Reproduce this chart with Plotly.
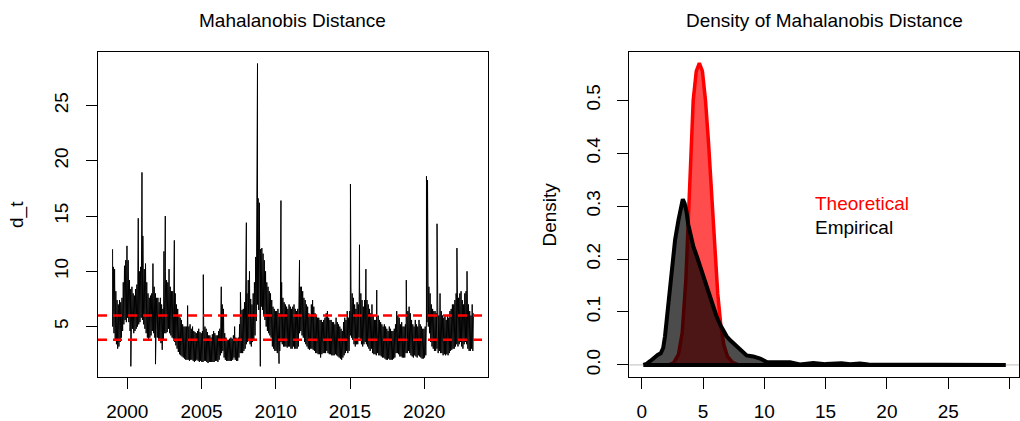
import plotly.graph_objects as go

# ---------------------------------------------------------------------------
# Daily Mahalanobis distance d_t, summarised per month as the low and high
# edge of the daily band (Jan 1999 .. Apr 2023), plus isolated daily extremes.
# ---------------------------------------------------------------------------
first_year = 1999

band_low = [
    5.0, 4.4, 3.8, 3.4, 3.0, 3.2, 3.6, 4.0, 4.6, 5.2, 5.6, 5.4,   # 1999
    5.8, 5.4, 4.6, 4.6, 4.8, 4.4, 4.6, 4.8, 5.0, 5.2, 5.4, 5.8,   # 2000
    5.6, 5.2, 4.8, 4.4, 4.0, 3.8, 4.0, 4.2, 4.6, 4.4, 4.0, 4.0,   # 2001
    4.0, 3.8, 3.9, 3.5, 2.9, 3.8, 4.4, 4.4, 4.5, 4.8, 4.4, 4.2,   # 2002
    4.0, 3.9, 3.6, 3.3, 3.0, 2.7, 2.5, 2.4, 2.3, 2.2, 2.1, 2.0,   # 2003
    2.0, 2.0, 1.9, 2.0, 2.0, 1.9, 1.8, 1.9, 2.0, 1.9, 1.8, 1.9,   # 2004
    1.8, 1.8, 1.9, 1.9, 1.8, 1.7, 1.8, 1.8, 1.8, 1.8, 1.8, 1.9,   # 2005
    1.9, 1.8, 2.0, 2.4, 2.6, 2.8, 2.2, 2.0, 1.9, 1.9, 1.9, 1.9,   # 2006
    1.9, 2.0, 2.2, 2.0, 1.9, 1.9, 2.2, 2.6, 2.6, 2.6, 2.8, 3.0,   # 2007
    3.4, 3.6, 3.8, 3.4, 3.2, 3.6, 3.8, 4.2, 5.5, 7.0, 6.5, 6.2,   # 2008
    6.8, 6.5, 6.0, 5.6, 5.0, 4.6, 4.4, 4.2, 4.0, 3.2, 3.0, 2.8,   # 2009
    2.8, 2.6, 2.6, 2.8, 3.6, 3.4, 3.2, 3.2, 3.2, 3.1, 3.2, 3.2,   # 2010
    3.0, 3.0, 3.2, 3.0, 3.0, 3.0, 3.2, 4.4, 4.6, 4.2, 4.0, 3.6,   # 2011
    3.4, 3.2, 3.0, 2.9, 3.0, 3.0, 2.9, 2.8, 2.6, 2.6, 2.5, 2.5,   # 2012
    2.2, 2.5, 2.6, 2.6, 2.6, 2.8, 2.6, 2.5, 2.5, 2.4, 2.4, 2.4,   # 2013
    2.5, 2.4, 2.3, 2.2, 2.1, 2.0, 2.2, 2.4, 2.6, 2.8, 2.6, 2.8,   # 2014
    4.2, 4.0, 3.8, 3.4, 3.2, 3.4, 3.4, 4.0, 3.8, 3.4, 3.2, 3.4,   # 2015
    3.6, 3.4, 3.2, 3.0, 2.8, 3.0, 2.6, 2.5, 2.5, 2.4, 2.6, 2.4,   # 2016
    2.4, 2.3, 2.2, 2.2, 2.1, 2.0, 2.0, 2.1, 2.0, 2.0, 2.0, 2.1,   # 2017
    2.2, 2.6, 2.6, 2.5, 2.3, 2.3, 2.2, 2.2, 2.2, 2.6, 2.6, 2.8,   # 2018
    2.6, 2.4, 2.3, 2.2, 2.4, 2.3, 2.2, 2.4, 2.3, 2.2, 2.1, 2.1,   # 2019
    2.2, 2.4, 5.4, 5.0, 4.4, 3.6, 3.2, 3.0, 2.8, 2.8, 3.0, 2.6,   # 2020
    2.8, 2.6, 2.6, 2.4, 2.5, 2.4, 2.5, 2.4, 2.6, 2.8, 2.9, 3.0,   # 2021
    3.0, 3.2, 3.4, 3.2, 3.4, 3.6, 3.2, 3.0, 3.4, 3.6, 3.4, 3.0,   # 2022
    2.8, 2.8, 3.0, 2.8,                                           # 2023
]

band_high = [
    10.4, 10.2, 8.2, 7.4, 7.0, 7.4, 7.2, 7.6, 9.0, 10.5, 11.0, 12.3,    # 1999
    11.0, 9.2, 8.4, 8.6, 8.0, 7.8, 8.4, 8.8, 9.6, 10.0, 10.4, 13.0,     # 2000
    11.5, 10.2, 10.7, 9.0, 8.0, 7.6, 7.8, 8.0, 10.7, 8.6, 8.0, 7.6,     # 2001
    7.6, 7.2, 7.6, 7.0, 6.6, 8.2, 10.0, 9.2, 9.0, 10.2, 8.6, 8.2,       # 2002
    8.2, 8.6, 8.0, 7.0, 6.6, 6.0, 5.8, 5.6, 5.2, 5.0, 5.0, 5.0,         # 2003
    6.9, 5.0, 5.2, 4.8, 5.0, 4.6, 4.5, 4.4, 4.6, 4.8, 4.5, 4.4,         # 2004
    4.6, 5.0, 5.0, 4.8, 4.5, 4.2, 4.2, 4.0, 4.3, 4.6, 4.4, 4.2,         # 2005
    4.2, 4.6, 4.8, 6.0, 7.0, 6.6, 4.4, 4.0, 3.8, 3.8, 3.9, 4.0,         # 2006
    3.9, 4.2, 5.0, 4.0, 3.9, 4.0, 5.2, 6.5, 6.5, 6.6, 7.2, 7.0,         # 2007
    8.0, 9.2, 10.0, 7.5, 7.0, 8.0, 9.0, 11.3, 16.5, 16.6, 16.2, 12.0,   # 2008
    12.1, 11.6, 11.0, 10.0, 9.0, 8.6, 8.2, 8.0, 7.4, 6.8, 6.6, 6.4,     # 2009
    6.4, 6.6, 6.2, 6.6, 9.0, 7.6, 7.2, 7.0, 6.8, 6.6, 7.0, 6.8,         # 2010
    6.6, 6.8, 7.0, 6.6, 6.4, 6.6, 7.0, 8.6, 8.6, 8.2, 7.6, 7.4,         # 2011
    7.0, 6.8, 6.2, 6.0, 7.0, 7.4, 6.8, 6.2, 6.0, 5.8, 5.8, 5.6,         # 2012
    5.6, 5.4, 5.6, 5.8, 6.2, 6.4, 5.8, 5.6, 5.6, 5.4, 5.4, 5.2,         # 2013
    5.8, 5.4, 5.2, 5.0, 4.8, 4.6, 5.4, 5.8, 5.6, 6.4, 5.8, 6.4,         # 2014
    8.6, 8.0, 7.6, 7.0, 6.6, 7.2, 7.0, 8.6, 8.0, 7.4, 6.8, 7.4,         # 2015
    8.0, 7.4, 7.0, 6.6, 6.2, 7.0, 6.0, 5.6, 5.6, 5.4, 6.0, 5.6,         # 2016
    5.4, 5.2, 5.0, 5.2, 5.0, 4.8, 4.6, 5.0, 4.8, 4.6, 4.6, 4.8,         # 2017
    5.2, 6.4, 6.0, 5.8, 5.2, 5.4, 5.0, 5.0, 5.2, 6.4, 6.4, 6.8,         # 2018
    6.2, 5.6, 5.2, 5.0, 5.6, 5.2, 5.0, 5.6, 5.2, 5.0, 4.8, 4.8,         # 2019
    5.0, 5.6, 9.6, 8.6, 8.0, 7.0, 6.6, 6.4, 6.4, 6.2, 8.3, 6.0,         # 2020
    8.0, 6.4, 6.0, 5.8, 6.0, 5.6, 6.0, 5.8, 6.4, 6.6, 7.0, 7.0,         # 2021
    7.4, 8.0, 8.3, 7.6, 8.0, 8.2, 7.4, 7.0, 8.0, 8.2, 7.6, 7.0,         # 2022
    6.4, 6.0, 7.0, 6.2,                                                 # 2023
]

# isolated daily extremes (decimal year, d_t)
spike_time = [1999.01, 2000.24, 2000.74, 2000.99, 2001.05, 2001.90, 2002.47,
              2002.56, 2003.17, 2005.12, 2006.33, 2007.62, 2008.02, 2008.74,
              2008.77, 2008.96, 2010.22, 2010.35, 2011.60, 2015.03, 2015.64,
              2016.07, 2016.80, 2018.79, 2020.15, 2020.22, 2020.86, 2022.20,
              2022.88]
spike_value = [12.0, 1.4, 14.8, 18.95, 13.2, 1.6, 11.8,
               15.0, 12.8, 9.7, 8.6, 8.1, 14.4, 26.1,
               28.8, 1.4, 1.65, 16.4, 11.0, 17.9, 12.4,
               10.2, 8.3, 9.2, 18.6, 18.25, 14.3, 12.1,
               10.0]

# reference levels drawn as dashed lines
threshold_levels = [6.0, 3.8]

# axis ticks
year_ticks = [2000, 2005, 2010, 2015, 2020]
dt_ticks = [5, 10, 15, 20, 25]
dist_ticks = [0, 5, 10, 15, 20, 25, 30]
dens_ticks = [0, 0.1, 0.2, 0.3, 0.4, 0.5]

# ---------------------------------------------------------------------------
# Density estimates of d_t
# ---------------------------------------------------------------------------
theo_x = [2.2, 2.6, 3.0, 3.3, 3.6, 3.8, 4.0, 4.2, 4.45, 4.7, 4.95, 5.2,
          5.45, 5.7, 5.95, 6.2, 6.45, 6.7, 7.0, 7.4, 7.8, 8.2]
theo_y = [0.0, 0.004, 0.02, 0.06, 0.16, 0.27, 0.40, 0.50, 0.555, 0.57, 0.555,
          0.50, 0.42, 0.32, 0.22, 0.135, 0.075, 0.038, 0.016, 0.005, 0.001, 0.0]

emp_x = [0.13, 0.4, 0.68, 1.0, 1.3, 1.55, 1.75, 1.9, 2.05, 2.2, 2.45, 2.72,
         3.0, 3.2, 3.35, 3.5, 3.65, 3.8, 4.0, 4.21, 4.5, 4.76, 5.0, 5.3,
         5.55, 5.84, 6.1, 6.4, 6.65, 6.93, 7.2, 7.48, 7.75, 8.0, 8.3, 8.56,
         9.1, 9.66, 10.2, 10.8, 11.3, 12.1, 12.9, 14.0, 15.0, 15.9, 16.3,
         17.0, 17.8, 18.5, 20.0, 22.0, 24.0, 26.0, 28.0, 29.0, 29.7]
emp_y = [0.0, 0.002, 0.007, 0.014, 0.019, 0.022, 0.032, 0.054, 0.085, 0.12,
         0.18, 0.236, 0.274, 0.302, 0.313, 0.305, 0.29, 0.265, 0.24, 0.224,
         0.205, 0.186, 0.168, 0.148, 0.128, 0.11, 0.092, 0.076, 0.064, 0.054,
         0.047, 0.041, 0.035, 0.029, 0.022, 0.018, 0.016, 0.012, 0.0055,
         0.005, 0.0045, 0.0049, 0.0008, 0.0037, 0.0015, 0.0018, 0.003, 0.0012,
         0.0025, 0.0008, 0.0006, 0.0004, 0.0003, 0.0003, 0.0004, 0.0005, 0.0]

legend_labels = ["Theoretical", "Empirical"]
legend_colors = ["#ff0000", "#000000"]

# ---------------------------------------------------------------------------
# Assemble the daily-looking path: low/high per month, extremes merged in time
# ---------------------------------------------------------------------------
pts = []
for i, (lo, hi) in enumerate(zip(band_low, band_high)):
    t0 = first_year + i / 12.0
    pts.append((t0 + 0.25 / 12.0, lo))
    pts.append((t0 + 0.75 / 12.0, hi))
pts += list(zip(spike_time, spike_value))
pts.sort(key=lambda p: p[0])
ts_x = [p[0] for p in pts]
ts_y = [p[1] for p in pts]


def closed(xs, ys):
    """Polygon outline including the closing edge back to the first vertex."""
    return list(xs) + [xs[0]], list(ys) + [ys[0]]


FONT = "Liberation Sans, Arial, sans-serif"
FS = 19
W, H = 1020, 421

# panel geometry (paper fractions)
dom_x1 = [0.0961, 0.4781]
dom_x2 = [0.617, 0.9993]
dom_y = [0.1038, 0.8772]
range_x2 = [-1.01, 30.8]
range_y2 = [-0.0234, 0.5917]

fig = go.Figure()

fig.add_trace(go.Scatter(
    x=ts_x, y=ts_y, mode="lines",
    line=dict(color="black", width=1),
    xaxis="x", yaxis="y", showlegend=False, hoverinfo="skip"))

for lvl in threshold_levels:
    fig.add_shape(type="line", xref="x domain", yref="y",
                  x0=0, x1=1, y0=lvl, y1=lvl,
                  line=dict(color="#ff0000", width=2.5, dash="9px,6px"))

# density panel: zero reference, theoretical then empirical on top
fig.add_shape(type="line", xref="x2 domain", yref="y2", x0=0, x1=1,
              y0=0, y1=0, line=dict(color="#bebebe", width=1), layer="below")

tx, ty = closed(theo_x, theo_y)
fig.add_trace(go.Scatter(
    x=tx, y=ty, mode="lines", fill="toself",
    fillcolor="rgba(255,0,0,0.7)", line=dict(color="#ff0000", width=3.5),
    xaxis="x2", yaxis="y2", showlegend=False, hoverinfo="skip"))
ex, ey = closed(emp_x, emp_y)
fig.add_trace(go.Scatter(
    x=ex, y=ey, mode="lines", fill="toself",
    fillcolor="rgba(0,0,0,0.7)", line=dict(color="#000000", width=4),
    xaxis="x2", yaxis="y2", showlegend=False, hoverinfo="skip"))

# the last distance label touches the right edge of the page; the axis label
# renderer culls it, so it is drawn as unclipped text under its tick instead
label_row = range_y2[0] - (411 - 377.7) / (377.7 - 51.7) * (range_y2[1] - range_y2[0])
fig.add_trace(go.Scatter(
    x=[dist_ticks[-1]], y=[label_row], mode="text",
    text=[str(dist_ticks[-1])], textposition="middle center",
    textfont=dict(family="Liberation Sans, Arial, sans-serif", size=19,
                  color="black"),
    cliponaxis=False, xaxis="x2", yaxis="y2", showlegend=False,
    hoverinfo="skip"))

axis_common = dict(
    showgrid=False, zeroline=False, showline=True, mirror=True,
    linecolor="black", linewidth=1, ticks="outside", ticklen=11,
    tickwidth=1, tickcolor="black",
    tickfont=dict(family=FONT, size=FS, color="black"),
)

dist_ticktext = [str(v) for v in dist_ticks[:-1]] + [""]

fig.update_layout(
    width=W, height=H,
    margin=dict(l=0, r=0, t=0, b=0),
    paper_bgcolor="white", plot_bgcolor="white",
    xaxis=dict(axis_common, domain=dom_x1, range=[1998.03, 2024.27],
               tickvals=year_ticks, ticklabelstandoff=6),
    yaxis=dict(axis_common, domain=dom_y, range=[0.41, 29.87],
               tickvals=dt_ticks, tickangle=-90, ticklabelstandoff=10),
    xaxis2=dict(axis_common, domain=dom_x2, range=range_x2,
                anchor="y2", tickvals=dist_ticks, ticktext=dist_ticktext,
                ticklabelstandoff=6),
    yaxis2=dict(axis_common, domain=dom_y, range=range_y2,
                anchor="x2", tickvals=dens_ticks,
                ticktext=[f"{v:.1f}" for v in dens_ticks],
                tickangle=-90, ticklabelstandoff=10),
)

txt = dict(family=FONT, size=FS, color="black")
annotations = [
    dict(text="Mahalanobis Distance", xref="paper", yref="paper",
         x=292.9 / W, y=1 - 20 / H, xanchor="center", yanchor="middle",
         showarrow=False, font=txt),
    dict(text="Density of Mahalanobis Distance", xref="paper", yref="paper",
         x=824.3 / W, y=1 - 20 / H, xanchor="center", yanchor="middle",
         showarrow=False, font=txt),
    dict(text="d_t", xref="paper", yref="paper", x=17.5 / W,
         y=sum(dom_y) / 2, xanchor="center", yanchor="middle",
         textangle=-90, showarrow=False, font=txt),
    dict(text="Density", xref="paper", yref="paper", x=549 / W,
         y=sum(dom_y) / 2, xanchor="center", yanchor="middle",
         textangle=-90, showarrow=False, font=txt),
]
for lab, col, yv in zip(legend_labels, legend_colors, [0.304, 0.26]):
    annotations.append(dict(text=lab, xref="x2", yref="y2", x=14.0, y=yv,
                            xanchor="left", yanchor="middle", showarrow=False,
                            font=dict(family=FONT, size=FS, color=col)))
fig.update_layout(annotations=annotations)

fig.write_html("out.html")
